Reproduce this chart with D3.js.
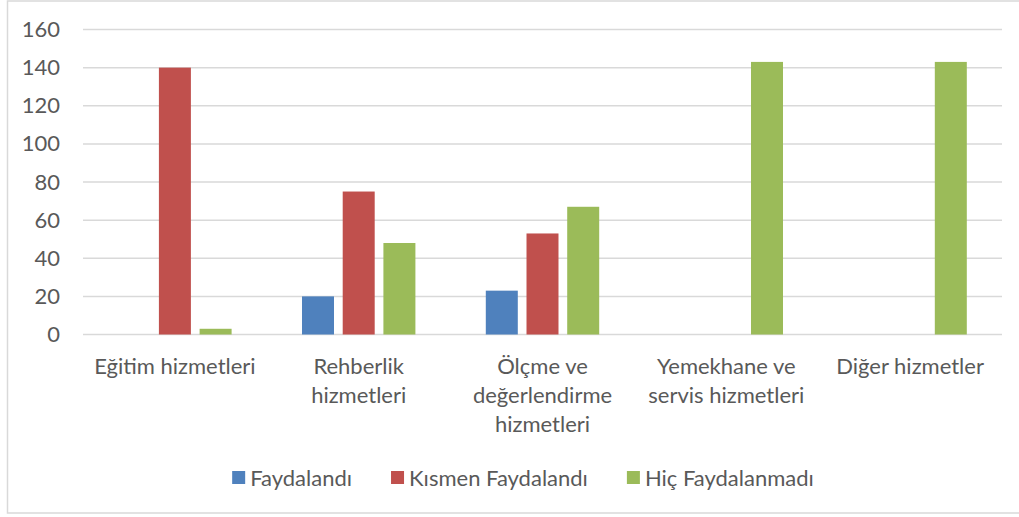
<!DOCTYPE html>
<meta charset="utf-8">
<title>Hizmetlerden faydalanma</title>
<style>
  body { margin: 0; background: #fff; }
  svg text { font-family: Lato, "Open Sans", sans-serif; fill: #595959; }
</style>
<body>
<svg id="chart" width="1019" height="517"></svg>
<script src="https://d3js.org/d3.v7.min.js"></script>
<script>
// categories (line-broken the way the axis shows them)
var categories = [
  ["Eğitim hizmetleri"],
  ["Rehberlik", "hizmetleri"],
  ["Ölçme ve", "değerlendirme", "hizmetleri"],
  ["Yemekhane ve", "servis hizmetleri"],
  ["Diğer hizmetler"]
];
var seriesNames = ["Faydalandı", "Kısmen Faydalandı", "Hiç Faydalanmadı"];
var seriesColors = ["#4f81bd", "#c0504d", "#9bbb59"];
var faydalandi = [0, 20, 23, 0, 0];
var kismen = [140, 75, 53, 0, 0];
var hic = [3, 48, 67, 143, 143];
var yTicks = [0, 20, 40, 60, 80, 100, 120, 140, 160];

var seriesValues = [faydalandi, kismen, hic];
var catKeys = categories.map(function(c) { return c.join(" "); });

var svg = d3.select("#chart");
var fontSize = 22;

// chart area border
svg.append("rect")
    .attr("x", 7.5).attr("y", 1)
    .attr("width", 1040).attr("height", 512)
    .attr("fill", "none")
    .attr("stroke", "#d9d9d9")
    .attr("stroke-width", 1.5);

var plotLeft = 83, plotRight = 1002, plotTop = 29.5, plotBottom = 334.5;

var y = d3.scaleLinear().domain([0, 160]).range([plotBottom, plotTop]);
var x0 = d3.scaleBand().domain(catKeys).range([plotLeft, plotRight]).padding(0);
var cw = x0.bandwidth();
var x1 = d3.scaleBand().domain(seriesNames)
    .range([cw * 0.1915, cw * 0.8085])
    .paddingInner(0.214).paddingOuter(0);

// gridlines
svg.append("g")
  .selectAll("line")
  .data(yTicks)
  .enter().append("line")
    .attr("x1", plotLeft).attr("x2", plotRight)
    .attr("y1", function(d) { return y(d); })
    .attr("y2", function(d) { return y(d); })
    .attr("stroke", "#d9d9d9")
    .attr("stroke-width", 1.5);

// y axis labels
var yAxis = svg.append("g")
    .attr("transform", "translate(" + (plotLeft - 12) + ",0)")
    .call(d3.axisLeft(y).tickValues(yTicks).tickSize(0).tickPadding(11));
yAxis.select(".domain").remove();
yAxis.selectAll("text")
    .attr("font-size", fontSize)
    .style("font-family", "Lato, 'Open Sans', sans-serif")
    .attr("fill", "#595959");

// bars
var rows = [];
seriesNames.forEach(function(s, i) {
  seriesValues[i].forEach(function(v, j) {
    if (v > 0) rows.push({ cat: catKeys[j], series: s, value: v, color: seriesColors[i] });
  });
});

svg.append("g")
  .selectAll("rect")
  .data(rows)
  .enter().append("rect")
    .attr("x", function(d) { return x0(d.cat) + x1(d.series); })
    .attr("y", function(d) { return y(d.value); })
    .attr("width", x1.bandwidth())
    .attr("height", function(d) { return y(0) - y(d.value); })
    .attr("fill", function(d) { return d.color; });

// category labels
var xl = svg.append("g");
categories.forEach(function(lines, j) {
  var t = xl.append("text")
      .attr("x", x0(catKeys[j]) + cw / 2)
      .attr("y", 374)
      .attr("text-anchor", "middle")
      .attr("font-size", fontSize);
  lines.forEach(function(line, k) {
    t.append("tspan")
        .attr("x", x0(catKeys[j]) + cw / 2)
        .attr("dy", k === 0 ? 0 : 29)
        .text(line);
  });
});

// legend
var legend = svg.append("g");
var lx = 0, gap = 39;
seriesNames.forEach(function(s, i) {
  var item = legend.append("g").attr("transform", "translate(" + lx + ",0)");
  item.append("rect")
      .attr("x", 0).attr("y", -7)
      .attr("width", 13).attr("height", 13)
      .attr("fill", seriesColors[i]);
  var t = item.append("text")
      .attr("x", 18).attr("y", 7.5)
      .attr("font-size", fontSize)
      .text(s);
  lx += 18 + t.node().getComputedTextLength() + gap;
});
var lw = lx - gap;
legend.attr("transform", "translate(" + (523 - lw / 2) + ",478)");
</script>
</body>
